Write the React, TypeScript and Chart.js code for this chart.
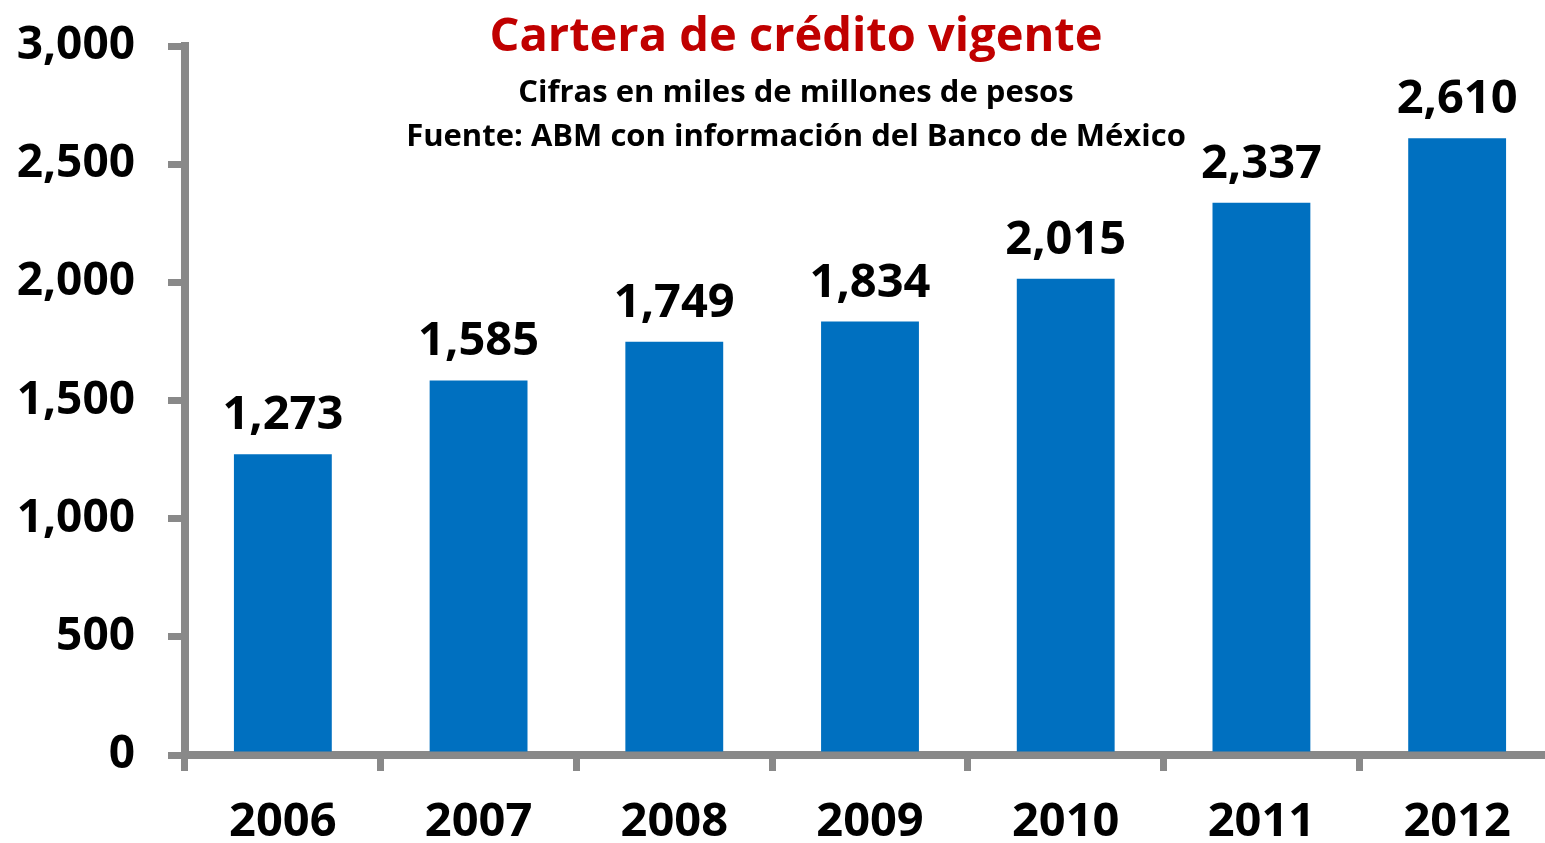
import React, { useEffect, useRef } from "react";
import { Chart, registerables } from "chart.js";

Chart.register(...registerables);

const categories = ["2006", "2007", "2008", "2009", "2010", "2011", "2012"];
const values = [1273, 1585, 1749, 1834, 2015, 2337, 2610];
const yTickValues = [0, 500, 1000, 1500, 2000, 2500, 3000];
const titleText = "Cartera de crédito vigente";
const subtitleLines = [
  "Cifras en miles de millones de pesos",
  "Fuente: ABM con información del Banco de México",
];

const FONT = "'Open Sans', 'DejaVu Sans', sans-serif";
const AXIS_GRAY = "#898989";
const BAR_BLUE = "#0070C0";
const TITLE_RED = "#C00000";
const fmt = (v: number) => v.toLocaleString("en-US");

const CANVAS_W = 1560;
const CANVAS_H = 843;

export default function App() {
  const ref = useRef<HTMLCanvasElement>(null);

  useEffect(() => {
    if (!ref.current) return;

    const valueLabels = {
      id: "valueLabels",
      afterDatasetsDraw(chart: any) {
        const ctx = chart.ctx;
        const meta = chart.getDatasetMeta(0);
        ctx.save();
        ctx.font = `bold 47px ${FONT}`;
        ctx.fillStyle = "#000000";
        ctx.textAlign = "center";
        ctx.textBaseline = "alphabetic";
        meta.data.forEach((bar: any, i: number) => {
          ctx.fillText(fmt(values[i]), bar.x, bar.y - 25);
        });
        ctx.restore();
      },
    };

    const overlayTitle = {
      id: "overlayTitle",
      afterDraw(chart: any) {
        const ctx = chart.ctx;
        ctx.save();
        ctx.textAlign = "center";
        ctx.textBaseline = "alphabetic";
        ctx.fillStyle = TITLE_RED;
        ctx.font = `bold 47px ${FONT}`;
        ctx.fillText(titleText, 796, 51);
        ctx.fillStyle = "#000000";
        ctx.font = `bold 31px ${FONT}`;
        ctx.fillText(subtitleLines[0], 796, 102);
        ctx.fillText(subtitleLines[1], 796, 146);
        ctx.restore();
      },
    };

    const chart = new Chart(ref.current, {
      type: "bar",
      data: {
        labels: categories,
        datasets: [
          {
            data: values,
            backgroundColor: BAR_BLUE,
            borderWidth: 0,
            barPercentage: 1,
            categoryPercentage: 0.5,
          },
        ],
      },
      options: {
        animation: false,
        responsive: false,
        devicePixelRatio: 1,
        layout: { padding: { top: 46, right: CANVAS_W - 1555, left: 0, bottom: 0 } },
        plugins: {
          legend: { display: false },
          tooltip: { enabled: false },
          title: { display: false },
        },
        scales: {
          x: {
            offset: true,
            grid: {
              offset: true,
              drawOnChartArea: false,
              drawTicks: true,
              tickLength: 16,
              lineWidth: 7,
              color: AXIS_GRAY,
            },
            border: { display: true, color: AXIS_GRAY, width: 8 },
            ticks: {
              color: "#000000",
              font: { family: FONT, size: 47, weight: "bold" },
              padding: 23,
              maxRotation: 0,
              autoSkip: false,
            },
            afterFit(scale: any) {
              scale.height = CANVAS_H - 755;
              scale.paddingLeft = 0;
              scale.paddingRight = 0;
              scale.paddingTop = 0;
              scale.paddingBottom = 0;
            },
          },
          y: {
            min: 0,
            max: 3000,
            afterBuildTicks(scale: any) {
              scale.ticks = yTickValues.map((v) => ({ value: v }));
            },
            grid: {
              drawOnChartArea: false,
              drawTicks: true,
              tickLength: 17,
              lineWidth: 7,
              color: AXIS_GRAY,
            },
            border: { display: true, color: AXIS_GRAY, width: 8 },
            ticks: {
              color: "#000000",
              font: { family: FONT, size: 46, weight: "bold" },
              padding: 33,
              callback: (v: any) => fmt(Number(v)),
            },
            afterFit(scale: any) {
              scale.width = 185;
              scale.paddingLeft = 0;
              scale.paddingRight = 0;
              scale.paddingTop = 0;
              scale.paddingBottom = 0;
            },
          },
        },
      },
      plugins: [valueLabels, overlayTitle],
    });

    if ((document as any).fonts && (document as any).fonts.ready) {
      (document as any).fonts.ready.then(() => {
        try {
          chart.update();
        } catch (e) {}
      });
    }

    return () => {
      chart.destroy();
    };
  }, []);

  return (
    <div
      style={{
        position: "fixed",
        left: 0,
        top: 0,
        width: 1545,
        height: CANVAS_H,
        overflow: "hidden",
        background: "#ffffff",
      }}
    >
      <canvas ref={ref} width={CANVAS_W} height={CANVAS_H} style={{ display: "block" }} />
    </div>
  );
}
